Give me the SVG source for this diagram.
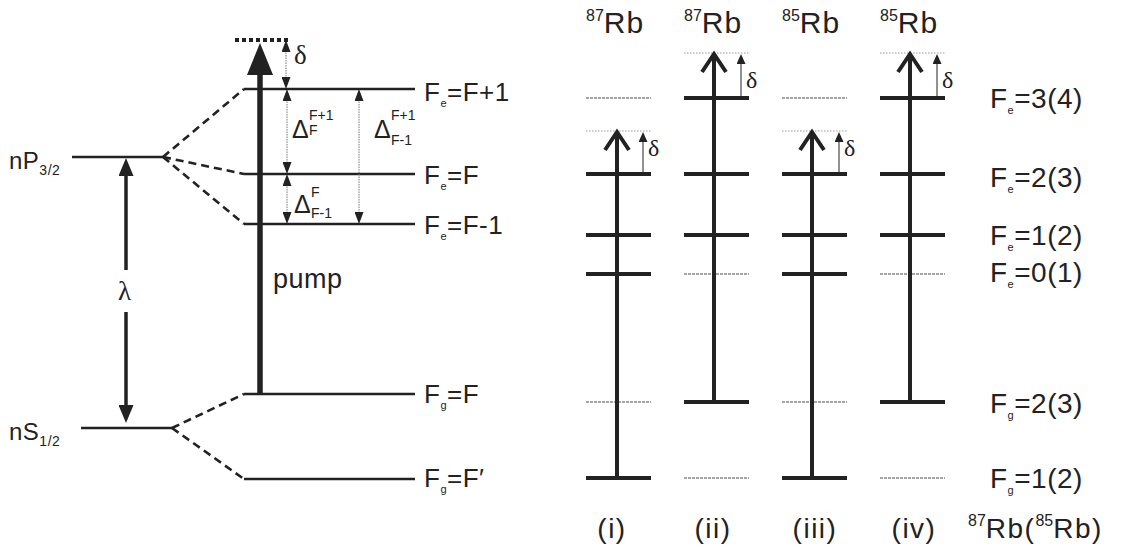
<svg xmlns="http://www.w3.org/2000/svg" width="1125" height="555" viewBox="0 0 1125 555">
<defs>
<style>
text{font-family:"Liberation Sans",Arial,sans-serif;fill:#222}
.lbl{font-size:26px;letter-spacing:0.5px}
.rl{font-size:28px;letter-spacing:0.5px}
.rb{font-size:30px;letter-spacing:1px}
.bl{font-size:28px;letter-spacing:1.5px}
.sub{font-size:11px}
.sm{font-size:14px}
.sup{font-size:16px;letter-spacing:0}
.ss{font-size:14px}
.greek{font-family:"Liberation Serif","Times New Roman",serif;font-size:27px}
.gr{font-family:"Liberation Serif","Times New Roman",serif;font-size:24px}
.lv{stroke:#222;stroke-width:2.6;fill:none}
.dash{stroke:#222;stroke-width:2.6;stroke-dasharray:8,5;fill:none}
.thick{stroke:#222;stroke-width:4;fill:none}
.thin{stroke:#888;stroke-width:1.3;stroke-dasharray:3,1;fill:none}
.dot{stroke:#999;stroke-width:1;stroke-dasharray:1.5,1.5;fill:none}
.dotar{stroke:#777;stroke-width:1;stroke-dasharray:1.5,1;fill:none}
.shaft{stroke:#222;stroke-width:4;fill:none}
.chev{stroke:#222;stroke-width:4;fill:none;stroke-linejoin:miter}
.dl{stroke:#222;stroke-width:1;fill:none}
</style>
<marker id="big" viewBox="0 0 18 15" refX="3" refY="7.5" markerWidth="18" markerHeight="15" markerUnits="userSpaceOnUse" orient="auto-start-reverse"><path d="M0,0 L18,7.5 L0,15 z" fill="#222"/></marker>
<marker id="sm" viewBox="0 0 12 9" refX="2" refY="4.5" markerWidth="12" markerHeight="9" markerUnits="userSpaceOnUse" orient="auto-start-reverse"><path d="M0,0 L12,4.5 L0,9 z" fill="#222"/></marker>
<marker id="xs" viewBox="0 0 10 9" refX="1" refY="4.5" markerWidth="10" markerHeight="9" markerUnits="userSpaceOnUse" orient="auto"><path d="M0,0 L10,4.5 L0,9 z" fill="#222"/></marker>
</defs>
<rect width="1125" height="555" fill="#fff"/>

<!-- LEFT: levels -->
<g id="nP32">
<line class="lv" x1="72" y1="157" x2="163" y2="157"/>
<text class="lbl" x="9" y="169" style="font-size:24px">nP<tspan class="sm" dy="6">3/2</tspan></text>
</g>
<g id="nS12">
<line class="lv" x1="81" y1="428" x2="172" y2="428"/>
<text class="lbl" x="9" y="440" style="font-size:24px">nS<tspan class="sm" dy="6">1/2</tspan></text>
</g>
<g id="FeFp1">
<line class="lv" x1="244" y1="89" x2="415" y2="89"/>
<text class="lbl" x="424" y="101">F<tspan class="sub" dy="6">e</tspan><tspan dy="-6">=F+1</tspan></text>
</g>
<g id="FeF">
<line class="lv" x1="244" y1="174" x2="415" y2="174"/>
<text class="lbl" x="424" y="184">F<tspan class="sub" dy="6">e</tspan><tspan dy="-6">=F</tspan></text>
</g>
<g id="FeFm1">
<line class="lv" x1="244" y1="224" x2="415" y2="224"/>
<text class="lbl" x="424" y="234">F<tspan class="sub" dy="6">e</tspan><tspan dy="-6">=F-1</tspan></text>
</g>
<g id="FgF">
<line class="lv" x1="244" y1="394" x2="415" y2="394"/>
<text class="lbl" x="424" y="403">F<tspan class="sub" dy="6">g</tspan><tspan dy="-6">=F</tspan></text>
</g>
<g id="FgFp">
<line class="lv" x1="244" y1="479" x2="415" y2="479"/>
<text class="lbl" x="424" y="487">F<tspan class="sub" dy="6">g</tspan><tspan dy="-6">=F′</tspan></text>
</g>
<g id="virtual-left">
<line x1="235" y1="40" x2="291" y2="40" stroke="#222" stroke-width="4" stroke-dasharray="4,3"/>
</g>

<!-- LEFT connectors -->
<g id="connectors-left">
<line class="dash" x1="163" y1="157" x2="244" y2="89"/>
<line class="dash" x1="163" y1="157" x2="244" y2="174"/>
<line class="dash" x1="163" y1="157" x2="244" y2="224"/>
<line class="dash" x1="172" y1="428" x2="244" y2="394"/>
<line class="dash" x1="172" y1="428" x2="244" y2="479"/>
<line stroke="#222" stroke-width="5.5" x1="260" y1="394" x2="260" y2="70"/>
<polygon points="260,43 247,75 273,75" fill="#222"/>
<line stroke="#222" stroke-width="3.5" x1="126" y1="270" x2="126" y2="173" marker-end="url(#big)"/>
<line stroke="#222" stroke-width="3.5" x1="126" y1="312" x2="126" y2="408" marker-end="url(#big)"/>
<line class="dotar" x1="286" y1="50" x2="286" y2="79" marker-start="url(#sm)" marker-end="url(#sm)"/>
<line class="dotar" x1="287" y1="99" x2="287" y2="164" marker-start="url(#sm)" marker-end="url(#sm)"/>
<line class="dotar" x1="287" y1="184" x2="287" y2="214" marker-start="url(#sm)" marker-end="url(#sm)"/>
<line class="dotar" x1="359" y1="99" x2="359" y2="214" marker-start="url(#sm)" marker-end="url(#sm)"/>
</g>
<g id="left-labels">
<text class="greek" x="294" y="64">δ</text>
<text class="greek" x="118" y="300">λ</text>
<text class="lbl" x="273" y="288" style="font-size:27px">pump</text>
<text class="lbl" x="292" y="138" style="font-size:25px">Δ</text>
<text class="ss" x="309" y="120">F+1</text>
<text class="ss" x="309" y="135">F</text>
<text class="lbl" x="374" y="138" style="font-size:25px">Δ</text>
<text class="ss" x="391" y="120">F+1</text>
<text class="ss" x="391" y="145">F-1</text>
<text class="lbl" x="294" y="213" style="font-size:25px">Δ</text>
<text class="ss" x="311" y="197">F</text>
<text class="ss" x="311" y="218">F-1</text>
</g>

<!-- RIGHT: level columns -->
<g id="col-i">
<text class="rb" x="586" y="33"><tspan class="sup" dy="-12">87</tspan><tspan dy="12">Rb</tspan></text>
<line class="thin" x1="586" y1="98" x2="651" y2="98"/>
<line class="dot" x1="586" y1="131" x2="651" y2="131"/>
<line class="thick" x1="586" y1="174" x2="651" y2="174"/>
<line class="thick" x1="586" y1="235" x2="651" y2="235"/>
<line class="thick" x1="586" y1="274" x2="651" y2="274"/>
<line class="thin" x1="586" y1="402" x2="651" y2="402"/>
<line class="thick" x1="586" y1="478" x2="651" y2="478"/>
<text class="bl" x="612" y="538" text-anchor="middle">(i)</text>
</g>
<g id="col-ii">
<text class="rb" x="684" y="33"><tspan class="sup" dy="-12">87</tspan><tspan dy="12">Rb</tspan></text>
<line class="dot" x1="684" y1="53" x2="749" y2="53"/>
<line class="thick" x1="684" y1="98" x2="749" y2="98"/>
<line class="thick" x1="684" y1="174" x2="749" y2="174"/>
<line class="thick" x1="684" y1="235" x2="749" y2="235"/>
<line class="thin" x1="684" y1="274" x2="749" y2="274"/>
<line class="thick" x1="684" y1="402" x2="749" y2="402"/>
<line class="thin" x1="684" y1="478" x2="749" y2="478"/>
<text class="bl" x="713" y="538" text-anchor="middle">(ii)</text>
</g>
<g id="col-iii">
<text class="rb" x="782" y="33"><tspan class="sup" dy="-12">85</tspan><tspan dy="12">Rb</tspan></text>
<line class="thin" x1="782" y1="98" x2="847" y2="98"/>
<line class="dot" x1="782" y1="131" x2="847" y2="131"/>
<line class="thick" x1="782" y1="174" x2="847" y2="174"/>
<line class="thick" x1="782" y1="235" x2="847" y2="235"/>
<line class="thick" x1="782" y1="274" x2="847" y2="274"/>
<line class="thin" x1="782" y1="402" x2="847" y2="402"/>
<line class="thick" x1="782" y1="478" x2="847" y2="478"/>
<text class="bl" x="815" y="538" text-anchor="middle">(iii)</text>
</g>
<g id="col-iv">
<text class="rb" x="880" y="33"><tspan class="sup" dy="-12">85</tspan><tspan dy="12">Rb</tspan></text>
<line class="dot" x1="880" y1="53" x2="945" y2="53"/>
<line class="thick" x1="880" y1="98" x2="945" y2="98"/>
<line class="thick" x1="880" y1="174" x2="945" y2="174"/>
<line class="thick" x1="880" y1="235" x2="945" y2="235"/>
<line class="thin" x1="880" y1="274" x2="945" y2="274"/>
<line class="thick" x1="880" y1="402" x2="945" y2="402"/>
<line class="thin" x1="880" y1="478" x2="945" y2="478"/>
<text class="bl" x="914" y="538" text-anchor="middle">(iv)</text>
</g>
<g id="right-labels">
<text class="rl" x="990" y="108">F<tspan class="sub" dy="6">e</tspan><tspan dy="-6">=3(4)</tspan></text>
<text class="rl" x="990" y="187">F<tspan class="sub" dy="6">e</tspan><tspan dy="-6">=2(3)</tspan></text>
<text class="rl" x="990" y="245">F<tspan class="sub" dy="6">e</tspan><tspan dy="-6">=1(2)</tspan></text>
<text class="rl" x="990" y="282">F<tspan class="sub" dy="6">e</tspan><tspan dy="-6">=0(1)</tspan></text>
<text class="rl" x="990" y="413">F<tspan class="sub" dy="6">g</tspan><tspan dy="-6">=2(3)</tspan></text>
<text class="rl" x="990" y="488">F<tspan class="sub" dy="6">g</tspan><tspan dy="-6">=1(2)</tspan></text>
<text class="bl" x="968" y="538"><tspan class="sup" dy="-12">87</tspan><tspan dy="12">Rb(</tspan><tspan class="sup" dy="-12">85</tspan><tspan dy="12">Rb)</tspan></text>
</g>

<!-- RIGHT connectors -->
<g id="connectors-right">
<line class="shaft" x1="617" y1="478" x2="617" y2="133"/>
<path class="chev" d="M605,150 L617,132 L629,150"/>
<line class="dl" x1="643" y1="174" x2="643" y2="141" marker-end="url(#xs)"/>
<text class="gr" x="648" y="156">δ</text>

<line class="shaft" x1="714" y1="402" x2="714" y2="55"/>
<path class="chev" d="M702,72 L714,54 L726,72"/>
<line class="dl" x1="741" y1="98" x2="741" y2="63" marker-end="url(#xs)"/>
<text class="gr" x="746" y="88">δ</text>

<line class="shaft" x1="812" y1="478" x2="812" y2="133"/>
<path class="chev" d="M800,150 L812,132 L824,150"/>
<line class="dl" x1="839" y1="174" x2="839" y2="141" marker-end="url(#xs)"/>
<text class="gr" x="844" y="156">δ</text>

<line class="shaft" x1="910" y1="402" x2="910" y2="55"/>
<path class="chev" d="M898,72 L910,54 L922,72"/>
<line class="dl" x1="937" y1="98" x2="937" y2="63" marker-end="url(#xs)"/>
<text class="gr" x="942" y="88">δ</text>
</g>
</svg>
